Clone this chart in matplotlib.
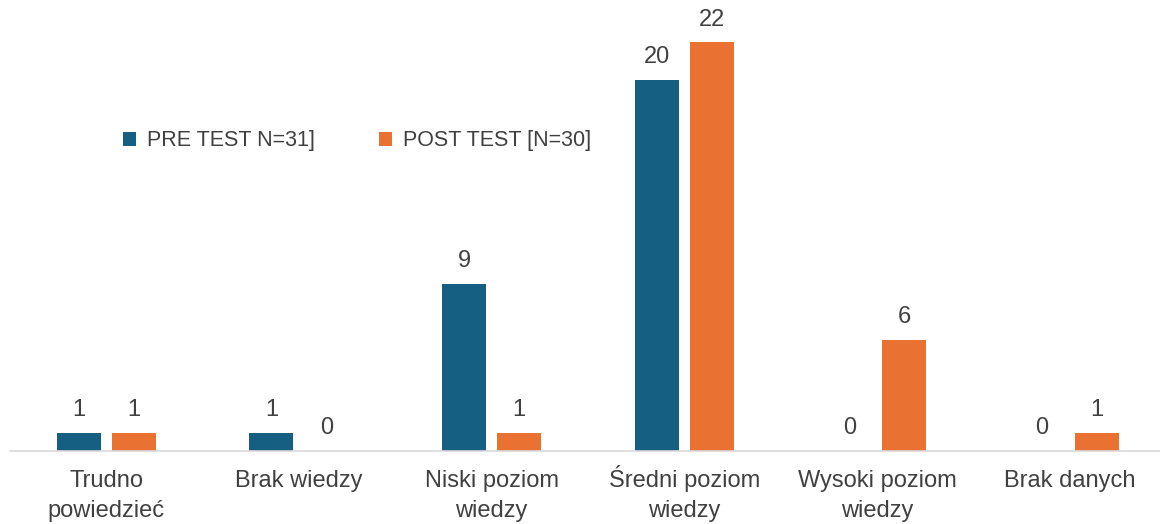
import matplotlib.pyplot as plt
import numpy as np

plt.rcParams['font.family'] = ['Liberation Sans', 'DejaVu Sans']

categories = ["Trudno\npowiedzieć", "Brak wiedzy", "Niski poziom\nwiedzy",
              "Średni poziom\nwiedzy", "Wysoki poziom\nwiedzy", "Brak danych"]
pre_test = [1, 1, 9, 20, 0, 0]
post_test = [1, 0, 1, 22, 6, 1]
series_names = ["PRE TEST N=31]", "POST TEST [N=30]"]

blue = '#156082'
orange = '#e97132'
text_col = '#404040'

fig = plt.figure(figsize=(11.6, 5.24), dpi=100)
ax = fig.add_axes([0.0085, 0.139, 0.9966, 0.851])

x = np.arange(len(categories))
w = 0.228
off = 0.1425
b1 = ax.bar(x - off, pre_test, w, color=blue, label=series_names[0])
b2 = ax.bar(x + off, post_test, w, color=orange, label=series_names[1])

for bars, vals in ((b1, pre_test), (b2, post_test)):
    for rect, v in zip(bars, vals):
        ax.annotate(str(v), (rect.get_x() + rect.get_width() / 2, v),
                    xytext=(0, 8.5), textcoords='offset points',
                    ha='center', va='bottom', fontsize=17, color=text_col)

ax.set_xlim(-0.5, 5.5)
ax.set_ylim(0, 24)
ax.set_xticks(x)
ax.set_xticklabels([])
ax.tick_params(axis='x', length=0)
# category labels, one text per line so that every first line sits on the same baseline
for xi, cat in zip(x, categories):
    for i, line in enumerate(cat.split('\n')):
        ax.annotate(line, (xi, 0), xycoords=('data', 'axes fraction'),
                    xytext=(0, -26 - 21.6 * i), textcoords='offset points',
                    ha='center', va='baseline', fontsize=17, color=text_col,
                    annotation_clip=False)
ax.set_yticks([])
for s in ['top', 'right', 'left']:
    ax.spines[s].set_visible(False)
ax.spines['bottom'].set_color('#d9d9d9')
ax.spines['bottom'].set_linewidth(1.2)

leg = fig.legend(loc='center left', bbox_to_anchor=(0.106, 0.731), ncol=2,
                 frameon=False, fontsize=15.5, handlelength=0.6, handleheight=0.6,
                 handletextpad=0.5, columnspacing=3.0, borderpad=0, borderaxespad=0)
for t in leg.get_texts():
    t.set_color(text_col)

fig.savefig('out.png', dpi=100)
